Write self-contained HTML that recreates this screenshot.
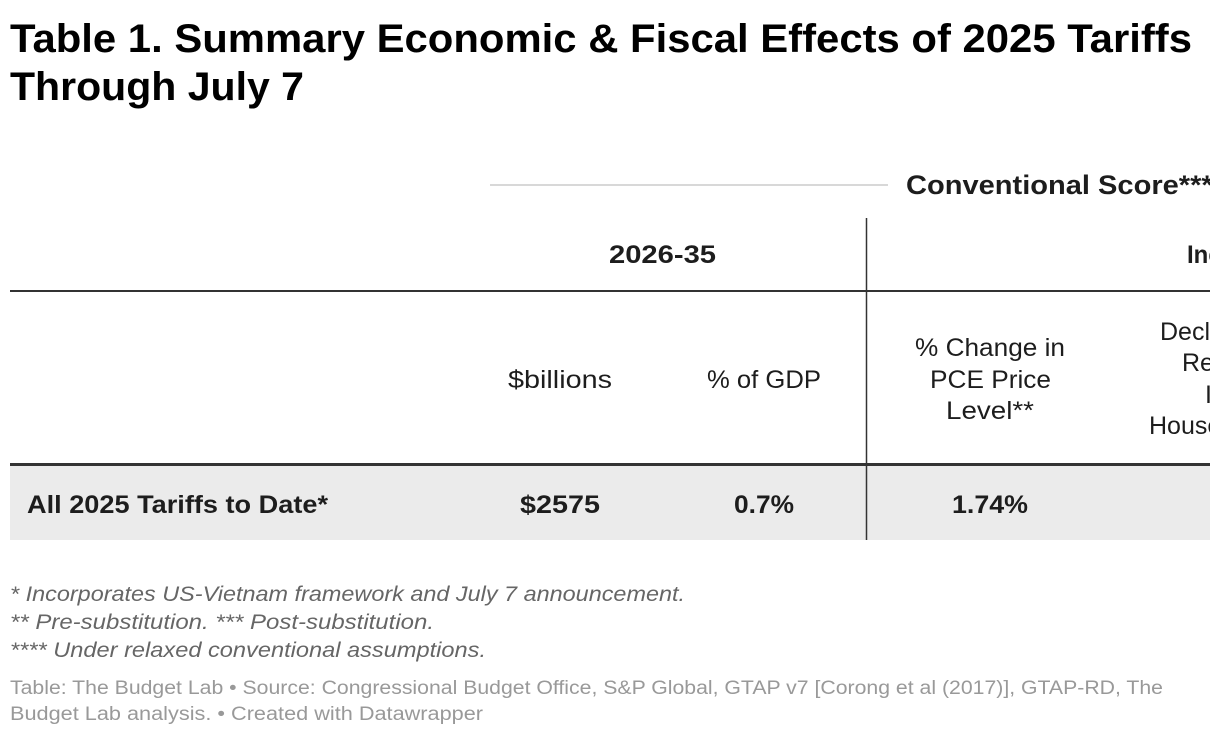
<!DOCTYPE html>
<html><head><meta charset="utf-8"><style>
html,body{margin:0;padding:0;background:#fff;}
svg{display:block;font-family:"Liberation Sans",sans-serif;}
</style></head><body>
<svg width="1220" height="736" viewBox="0 0 1220 736">
<defs><clipPath id="c"><rect x="0" y="0" width="1210" height="736"/></clipPath></defs>
<g clip-path="url(#c)">
<text x="10" y="52" font-size="40" font-weight="bold" fill="#000" textLength="1182" lengthAdjust="spacingAndGlyphs">Table 1. Summary Economic &amp; Fiscal Effects of 2025 Tariffs</text>
<text x="10" y="100" font-size="40" font-weight="bold" fill="#000" textLength="294" lengthAdjust="spacingAndGlyphs">Through July 7</text>

<line x1="490" y1="185" x2="888" y2="185" stroke="#cccccc" stroke-width="1.5"/>
<text x="906" y="194" font-size="27" font-weight="bold" fill="#1d1d1d" textLength="318" lengthAdjust="spacingAndGlyphs">Conventional Score****</text>

<text x="609" y="263" font-size="25" font-weight="bold" fill="#1d1d1d" textLength="107" lengthAdjust="spacingAndGlyphs">2026-35</text>
<text x="1187" y="263" font-size="25" font-weight="bold" fill="#1d1d1d" textLength="84" lengthAdjust="spacingAndGlyphs">Income</text>

<line x1="10" y1="291" x2="1210" y2="291" stroke="#333" stroke-width="2"/>

<g font-size="25" fill="#1d1d1d">
<text x="508" y="388" textLength="104" lengthAdjust="spacingAndGlyphs">$billions</text>
<text x="707" y="388" textLength="114" lengthAdjust="spacingAndGlyphs">% of GDP</text>
<text x="915" y="356" textLength="150" lengthAdjust="spacingAndGlyphs">% Change in</text>
<text x="930" y="388" textLength="121" lengthAdjust="spacingAndGlyphs">PCE Price</text>
<text x="946" y="419" textLength="88" lengthAdjust="spacingAndGlyphs">Level**</text>
<text><tspan x="1160" y="340">Decline in</tspan><tspan x="1182" y="371">Real</tspan><tspan x="1205" y="403">Income</tspan><tspan x="1149" y="434">Household</tspan></text>
</g>

<rect x="10" y="466" width="1200" height="74" fill="#ebebeb"/>
<line x1="10" y1="464.5" x2="1210" y2="464.5" stroke="#333" stroke-width="3"/>

<g font-size="25" font-weight="bold" fill="#1d1d1d">
<text x="27" y="513" textLength="301" lengthAdjust="spacingAndGlyphs">All 2025 Tariffs to Date*</text>
<text x="520" y="513" textLength="80" lengthAdjust="spacingAndGlyphs">$2575</text>
<text x="734" y="513" textLength="60" lengthAdjust="spacingAndGlyphs">0.7%</text>
<text x="952" y="513" textLength="76" lengthAdjust="spacingAndGlyphs">1.74%</text>
</g>

<line x1="866.5" y1="218" x2="866.5" y2="540" stroke="#333" stroke-width="1.5"/>
</g>

<g font-size="21" font-style="italic" fill="#666">
<text x="10" y="601" textLength="675" lengthAdjust="spacingAndGlyphs">* Incorporates US-Vietnam framework and July 7 announcement.</text>
<text x="10" y="629" textLength="424" lengthAdjust="spacingAndGlyphs">** Pre-substitution. *** Post-substitution.</text>
<text x="10" y="657" textLength="476" lengthAdjust="spacingAndGlyphs">**** Under relaxed conventional assumptions.</text>
</g>
<g font-size="19" fill="#999">
<text x="10" y="694" textLength="1153" lengthAdjust="spacingAndGlyphs">Table: The Budget Lab • Source: Congressional Budget Office, S&amp;P Global, GTAP v7 [Corong et al (2017)], GTAP-RD, The</text>
<text x="10" y="720" textLength="473" lengthAdjust="spacingAndGlyphs">Budget Lab analysis. • Created with Datawrapper</text>
</g>
</svg>
</body></html>
